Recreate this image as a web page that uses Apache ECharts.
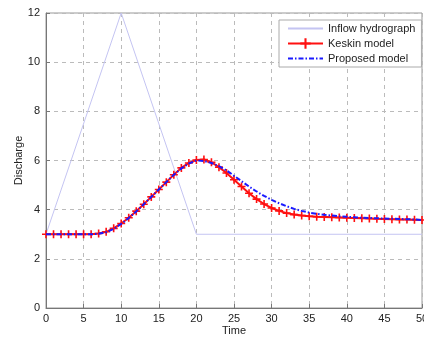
<!DOCTYPE html>
<html>
<head>
<meta charset="utf-8">
<script src="https://cdn.jsdelivr.net/npm/echarts@6/dist/echarts.min.js"></script>
<style>html,body{margin:0;padding:0;background:#fff}#c{width:424px;height:338px}</style>
</head>
<body>
<div id="c"></div>
<script>
var timeSteps = [];
for (var i = 0; i <= 50; i++) timeSteps.push(i);
var inflowPoints = [[0, 3], [10, 12], [20, 3], [50, 3]];
var keskin = [3.0,3.0,3.0,3.0,3.0,3.0,3.0,3.03,3.1,3.24,3.44,3.67,3.94,4.22,4.52,4.82,5.12,5.42,5.7,5.9,6.02,6.04,5.93,5.73,5.49,5.22,4.94,4.67,4.43,4.23,4.07,3.95,3.86,3.8,3.76,3.73,3.71,3.7,3.69,3.68,3.67,3.66,3.65,3.64,3.63,3.62,3.61,3.6,3.6,3.59,3.58];
var proposed = [3.0,3.0,3.0,3.0,3.0,3.0,3.0,3.02,3.08,3.22,3.42,3.66,3.93,4.22,4.52,4.82,5.12,5.42,5.68,5.88,6.0,5.98,5.9,5.77,5.6,5.38,5.16,4.94,4.74,4.56,4.4,4.26,4.14,4.03,3.95,3.88,3.83,3.79,3.76,3.73,3.71,3.69,3.67,3.66,3.65,3.64,3.63,3.62,3.61,3.6,3.58];
var xTicks = [0, 50, 5];
var yTicks = [0, 12, 2];
var seriesNames = ['Inflow hydrograph', 'Keskin model', 'Proposed model'];

function pairs(xs, ys) { return xs.map(function (x, k) { return [x, ys[k]]; }); }

var plus = 'path://M4,0 L6,0 L6,4 L10,4 L10,6 L6,6 L6,10 L4,10 L4,6 L0,6 L0,4 L4,4 Z';
var font = 'Liberation Sans';
var chart = echarts.init(document.getElementById('c'), null, {renderer: 'canvas'});
chart.setOption({
  animation: false,
  backgroundColor: '#fff',
  grid: {left: 46, right: 2, top: 13, bottom: 30, show: true, borderColor: '#999', borderWidth: 1,
         backgroundColor: 'transparent', containLabel: false, outerBoundsMode: 'none'},
  legend: {
    orient: 'vertical', left: 279, top: 20, padding: [3, 6, 3, 8], itemGap: 4,
    itemWidth: 35, itemHeight: 13,
    backgroundColor: '#fff', borderColor: '#aaa', borderWidth: 1, borderRadius: 0,
    textStyle: {fontFamily: font, fontSize: 11, color: '#222'},
    data: [
      {name: seriesNames[0], itemStyle: {opacity: 0}},
      {name: seriesNames[1]},
      {name: seriesNames[2], itemStyle: {opacity: 0}}
    ]
  },
  xAxis: {
    type: 'value', min: xTicks[0], max: xTicks[1], interval: xTicks[2],
    name: 'Time', nameLocation: 'middle', nameGap: 17, nameMoveOverlap: false,
    nameTextStyle: {fontFamily: font, fontSize: 11, color: '#222'},
    axisLine: {onZero: false, lineStyle: {color: '#777'}},
    axisTick: {inside: true, length: 4, lineStyle: {color: '#777'}},
    axisLabel: {fontFamily: font, fontSize: 11, color: '#222', margin: 5},
    splitLine: {show: true, lineStyle: {color: '#bbb', type: [4, 4]}}
  },
  yAxis: {
    type: 'value', min: yTicks[0], max: yTicks[1], interval: yTicks[2],
    name: 'Discharge', nameLocation: 'middle', nameGap: 22, nameMoveOverlap: false,
    nameTextStyle: {fontFamily: font, fontSize: 11, color: '#222'},
    axisLine: {show: true, lineStyle: {color: '#777'}},
    axisTick: {inside: true, length: 4, lineStyle: {color: '#777'}},
    axisLabel: {fontFamily: font, fontSize: 11, color: '#222', margin: 6},
    splitLine: {show: true, lineStyle: {color: '#bbb', type: [4, 4]}}
  },
  series: [
    {name: seriesNames[0], type: 'line', data: inflowPoints, showSymbol: false, symbol: 'none',
     lineStyle: {color: '#c4c4f2', width: 1}, itemStyle: {color: '#c4c4f2'}, z: 1},
    {name: seriesNames[1], type: 'line', data: pairs(timeSteps, keskin), symbol: plus, symbolSize: 8, showSymbol: true,
     lineStyle: {color: '#ff1010', width: 2}, itemStyle: {color: '#ff1010', borderWidth: 0}, z: 2},
    {name: seriesNames[2], type: 'line', data: pairs(timeSteps, proposed), showSymbol: false, symbol: 'none',
     lineStyle: {color: '#1a1aff', width: 2, type: [5, 2, 1.5, 2]}, itemStyle: {color: '#1a1aff'}, z: 3}
  ]
});
</script>
</body>
</html>
